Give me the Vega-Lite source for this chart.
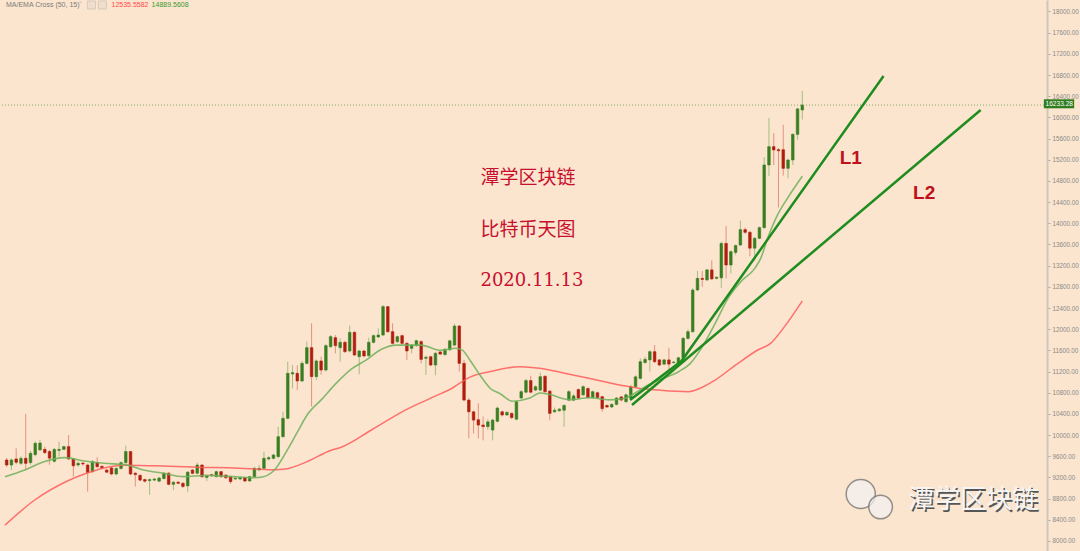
{
"$schema": "https://vega.github.io/schema/vega-lite/v6.json",
"width": 1047, "height": 551,
"autosize": {"type": "none"},
"padding": {"left": 0, "top": 0, "right": 33, "bottom": 0},
"background": "#fbe5cf",
"config": {"view": {"stroke": null}, "font": "Liberation Sans", "axis": {"labelOverlap": false}},
"resolve": {"axis": {"y": "independent", "x": "independent"}},
"datasets": {
"candles": [
{"i":-1,"o":9530,"h":9570,"l":9400,"c":9435},
{"i":0,"o":9435,"h":9560,"l":9340,"c":9530},
{"i":1,"o":9549,"h":9750,"l":9450,"c":9486},
{"i":2,"o":9467,"h":9600,"l":9430,"c":9560},
{"i":3,"o":9562,"h":10400,"l":9340,"c":9467},
{"i":4,"o":9480,"h":9700,"l":9440,"c":9656},
{"i":5,"o":9630,"h":9880,"l":9600,"c":9845},
{"i":6,"o":9720,"h":9910,"l":9700,"c":9850},
{"i":7,"o":9730,"h":9780,"l":9640,"c":9670},
{"i":8,"o":9690,"h":9720,"l":9440,"c":9565},
{"i":9,"o":9505,"h":9760,"l":9480,"c":9730},
{"i":10,"o":9710,"h":9875,"l":9590,"c":9730},
{"i":11,"o":9730,"h":9800,"l":9720,"c":9782},
{"i":12,"o":9782,"h":10000,"l":9530,"c":9549},
{"i":13,"o":9549,"h":9560,"l":9215,"c":9420},
{"i":14,"o":9435,"h":9500,"l":9400,"c":9467},
{"i":15,"o":9470,"h":9490,"l":9420,"c":9455},
{"i":16,"o":9435,"h":9460,"l":8931,"c":9290},
{"i":17,"o":9310,"h":9530,"l":9290,"c":9500},
{"i":18,"o":9480,"h":9580,"l":9380,"c":9404},
{"i":19,"o":9410,"h":9430,"l":9350,"c":9380},
{"i":20,"o":9340,"h":9360,"l":9280,"c":9300},
{"i":21,"o":9380,"h":9400,"l":9240,"c":9265},
{"i":22,"o":9265,"h":9390,"l":9240,"c":9370},
{"i":23,"o":9370,"h":9500,"l":9350,"c":9480},
{"i":24,"o":9480,"h":9800,"l":9460,"c":9690},
{"i":25,"o":9690,"h":9700,"l":9240,"c":9265},
{"i":26,"o":9280,"h":9300,"l":9030,"c":9255},
{"i":27,"o":9240,"h":9260,"l":9130,"c":9150},
{"i":28,"o":9160,"h":9180,"l":9100,"c":9130},
{"i":29,"o":9140,"h":9180,"l":8870,"c":9160},
{"i":30,"o":9150,"h":9190,"l":9130,"c":9170},
{"i":31,"o":9130,"h":9210,"l":9110,"c":9190},
{"i":32,"o":9180,"h":9300,"l":9160,"c":9280},
{"i":33,"o":9280,"h":9300,"l":9050,"c":9070},
{"i":34,"o":9070,"h":9130,"l":8960,"c":9110},
{"i":35,"o":9110,"h":9130,"l":9070,"c":9090},
{"i":36,"o":9090,"h":9110,"l":9000,"c":9030},
{"i":37,"o":9040,"h":9320,"l":8930,"c":9300},
{"i":38,"o":9340,"h":9360,"l":9260,"c":9278},
{"i":39,"o":9280,"h":9480,"l":9260,"c":9435},
{"i":40,"o":9435,"h":9450,"l":9190,"c":9215},
{"i":41,"o":9200,"h":9250,"l":9130,"c":9230},
{"i":42,"o":9250,"h":9270,"l":9210,"c":9240},
{"i":43,"o":9215,"h":9330,"l":9200,"c":9309},
{"i":44,"o":9309,"h":9320,"l":9190,"c":9215},
{"i":45,"o":9246,"h":9260,"l":9170,"c":9196},
{"i":46,"o":9215,"h":9230,"l":9080,"c":9121},
{"i":47,"o":9171,"h":9200,"l":9150,"c":9184},
{"i":48,"o":9171,"h":9210,"l":9150,"c":9196},
{"i":49,"o":9196,"h":9210,"l":9110,"c":9133},
{"i":50,"o":9133,"h":9230,"l":9120,"c":9215},
{"i":51,"o":9215,"h":9400,"l":9200,"c":9372},
{"i":52,"o":9341,"h":9435,"l":9320,"c":9372},
{"i":53,"o":9372,"h":9687,"l":9350,"c":9561},
{"i":54,"o":9549,"h":9600,"l":9520,"c":9574},
{"i":55,"o":9561,"h":9650,"l":9540,"c":9624},
{"i":56,"o":9593,"h":10159,"l":9570,"c":9970},
{"i":57,"o":9970,"h":10442,"l":9950,"c":10317},
{"i":58,"o":10317,"h":11387,"l":10300,"c":11167},
{"i":59,"o":11154,"h":11322,"l":10883,"c":11179},
{"i":60,"o":11167,"h":11322,"l":10852,"c":11022},
{"i":61,"o":11022,"h":11400,"l":11000,"c":11355},
{"i":62,"o":11355,"h":11765,"l":11330,"c":11651},
{"i":63,"o":11651,"h":12111,"l":10537,"c":11104},
{"i":64,"o":11104,"h":11430,"l":11041,"c":11400},
{"i":65,"o":11400,"h":11481,"l":11140,"c":11229},
{"i":66,"o":11229,"h":11720,"l":11200,"c":11689},
{"i":67,"o":11670,"h":11890,"l":11640,"c":11859},
{"i":68,"o":11840,"h":11890,"l":11544,"c":11689},
{"i":69,"o":11651,"h":11827,"l":11386,"c":11752},
{"i":70,"o":11752,"h":11780,"l":11550,"c":11576},
{"i":71,"o":11588,"h":12067,"l":11560,"c":11941},
{"i":72,"o":11941,"h":11960,"l":11490,"c":11513},
{"i":73,"o":11481,"h":11610,"l":11148,"c":11588},
{"i":74,"o":11588,"h":11610,"l":11470,"c":11494},
{"i":75,"o":11500,"h":11840,"l":11480,"c":11752},
{"i":76,"o":11752,"h":11900,"l":11730,"c":11878},
{"i":77,"o":11853,"h":12016,"l":11830,"c":11890},
{"i":78,"o":11890,"h":12457,"l":11870,"c":12426},
{"i":79,"o":12426,"h":12440,"l":11930,"c":11953},
{"i":80,"o":11953,"h":12111,"l":11710,"c":11733},
{"i":81,"o":11765,"h":11880,"l":11740,"c":11859},
{"i":82,"o":11878,"h":11900,"l":11710,"c":11733},
{"i":83,"o":11733,"h":11750,"l":11418,"c":11588},
{"i":84,"o":11639,"h":11720,"l":11544,"c":11701},
{"i":85,"o":11689,"h":11800,"l":11670,"c":11783},
{"i":86,"o":11765,"h":11790,"l":11355,"c":11430},
{"i":87,"o":11450,"h":11500,"l":11135,"c":11470},
{"i":88,"o":11480,"h":11500,"l":11300,"c":11323},
{"i":89,"o":11323,"h":11570,"l":11130,"c":11544},
{"i":90,"o":11570,"h":11590,"l":11510,"c":11530},
{"i":91,"o":11520,"h":11640,"l":11500,"c":11620},
{"i":92,"o":11610,"h":11800,"l":11590,"c":11780},
{"i":93,"o":11700,"h":12100,"l":11680,"c":12060},
{"i":94,"o":12060,"h":12080,"l":11200,"c":11355},
{"i":95,"o":11355,"h":11420,"l":10640,"c":10662},
{"i":96,"o":10662,"h":10700,"l":9939,"c":10440},
{"i":97,"o":10440,"h":10460,"l":10030,"c":10284},
{"i":98,"o":10290,"h":10600,"l":9940,"c":10190},
{"i":99,"o":10190,"h":10350,"l":9900,"c":10160},
{"i":100,"o":10160,"h":10300,"l":10100,"c":10250},
{"i":101,"o":10095,"h":10310,"l":9900,"c":10284},
{"i":102,"o":10260,"h":10540,"l":10240,"c":10510},
{"i":103,"o":10440,"h":10460,"l":10350,"c":10380},
{"i":104,"o":10380,"h":10450,"l":10360,"c":10430},
{"i":105,"o":10410,"h":10430,"l":10300,"c":10330},
{"i":106,"o":10300,"h":10650,"l":10280,"c":10630},
{"i":107,"o":10700,"h":10850,"l":10680,"c":10820},
{"i":108,"o":10810,"h":11060,"l":10790,"c":11030},
{"i":109,"o":11030,"h":11120,"l":10790,"c":10810},
{"i":110,"o":10850,"h":10940,"l":10830,"c":10914},
{"i":111,"o":10850,"h":11180,"l":10830,"c":11103},
{"i":112,"o":11110,"h":11130,"l":10800,"c":10820},
{"i":113,"o":10830,"h":10850,"l":10280,"c":10410},
{"i":114,"o":10440,"h":10520,"l":10420,"c":10470},
{"i":115,"o":10460,"h":10510,"l":10440,"c":10490},
{"i":116,"o":10470,"h":10580,"l":10158,"c":10560},
{"i":117,"o":10660,"h":10850,"l":10640,"c":10820},
{"i":118,"o":10660,"h":10780,"l":10640,"c":10740},
{"i":119,"o":10860,"h":10880,"l":10680,"c":10700},
{"i":120,"o":10760,"h":10940,"l":10740,"c":10914},
{"i":121,"o":10880,"h":10900,"l":10690,"c":10710},
{"i":122,"o":10710,"h":10840,"l":10690,"c":10820},
{"i":123,"o":10800,"h":10820,"l":10690,"c":10710},
{"i":124,"o":10725,"h":10740,"l":10440,"c":10500},
{"i":125,"o":10560,"h":10580,"l":10510,"c":10530},
{"i":126,"o":10530,"h":10600,"l":10510,"c":10580},
{"i":127,"o":10580,"h":10720,"l":10560,"c":10700},
{"i":128,"o":10720,"h":10740,"l":10640,"c":10662},
{"i":129,"o":10630,"h":10780,"l":10610,"c":10760},
{"i":130,"o":10700,"h":10950,"l":10680,"c":10914},
{"i":131,"o":10914,"h":11130,"l":10890,"c":11100},
{"i":132,"o":11071,"h":11450,"l":11050,"c":11386},
{"i":133,"o":11370,"h":11480,"l":11350,"c":11430},
{"i":134,"o":11420,"h":11600,"l":11200,"c":11575},
{"i":135,"o":11575,"h":11700,"l":11360,"c":11386},
{"i":136,"o":11420,"h":11440,"l":11300,"c":11323},
{"i":137,"o":11340,"h":11440,"l":11320,"c":11420},
{"i":138,"o":11420,"h":11650,"l":11150,"c":11340},
{"i":139,"o":11370,"h":11400,"l":11350,"c":11380},
{"i":140,"o":11340,"h":11480,"l":11320,"c":11460},
{"i":141,"o":11460,"h":11850,"l":11440,"c":11827},
{"i":142,"o":11827,"h":12000,"l":11800,"c":11953},
{"i":143,"o":11953,"h":12780,"l":11930,"c":12740},
{"i":144,"o":12740,"h":13100,"l":12720,"c":12960},
{"i":145,"o":12960,"h":13100,"l":12800,"c":12940},
{"i":146,"o":12930,"h":13140,"l":12910,"c":13120},
{"i":147,"o":13120,"h":13300,"l":12930,"c":12950},
{"i":148,"o":12960,"h":13000,"l":12940,"c":12980},
{"i":149,"o":12970,"h":13650,"l":12780,"c":13620},
{"i":150,"o":13620,"h":13950,"l":12960,"c":13212},
{"i":151,"o":13212,"h":13490,"l":13050,"c":13464},
{"i":152,"o":13450,"h":13600,"l":13400,"c":13580},
{"i":153,"o":13590,"h":14050,"l":13570,"c":13880},
{"i":154,"o":13880,"h":13920,"l":13800,"c":13830},
{"i":155,"o":13830,"h":13850,"l":13380,"c":13530},
{"i":156,"o":13530,"h":13740,"l":13300,"c":13716},
{"i":157,"o":13716,"h":13940,"l":13700,"c":13918},
{"i":158,"o":13918,"h":15250,"l":13900,"c":15101},
{"i":159,"o":15101,"h":15990,"l":14890,"c":15447},
{"i":160,"o":15447,"h":15700,"l":15100,"c":15385},
{"i":161,"o":15390,"h":15420,"l":14300,"c":15370},
{"i":162,"o":15390,"h":15860,"l":14900,"c":15038},
{"i":163,"o":15038,"h":15220,"l":14850,"c":15195},
{"i":164,"o":15195,"h":15700,"l":15100,"c":15680},
{"i":165,"o":15680,"h":16180,"l":15580,"c":16160},
{"i":166,"o":16140,"h":16500,"l":15960,"c":16233.28}
],
"ma": [
{"i":-1.35,"v":8300},{"i":4.89,"v":8774},{"i":11.75,"v":9133},{"i":15.9,"v":9284},{"i":19.44,"v":9380},{"i":23.6,"v":9430},{"i":29.83,"v":9420},{"i":40.23,"v":9390},{"i":45.43,"v":9385},{"i":51.04,"v":9360},{"i":55.2,"v":9345},{"i":57.9,"v":9365},{"i":62.06,"v":9498},{"i":67.25,"v":9719},{"i":68.92,"v":9760},{"i":75.57,"v":10096},{"i":82.85,"v":10480},{"i":89.08,"v":10740},{"i":92.2,"v":10870},{"i":96.36,"v":11100},{"i":100.5,"v":11200},{"i":106.75,"v":11292},{"i":110.9,"v":11262},{"i":116.1,"v":11170},{"i":120.9,"v":11080},{"i":125.46,"v":10990},{"i":128.58,"v":10930},{"i":131.7,"v":10885},{"i":135.86,"v":10850},{"i":142.1,"v":10820},{"i":144.17,"v":10870},{"i":147.7,"v":11040},{"i":152.49,"v":11355},{"i":156.65,"v":11607},{"i":159.35,"v":11733},{"i":162.26,"v":12048},{"i":166,"v":12535.56}
],
"ema": [
{"i":-1.35,"v":9215},{"i":2.81,"v":9341},{"i":6.97,"v":9500},{"i":11.12,"v":9575},{"i":15.28,"v":9510},{"i":19.44,"v":9467},{"i":24.22,"v":9435},{"i":27.75,"v":9341},{"i":31.91,"v":9278},{"i":36.07,"v":9215},{"i":41.27,"v":9240},{"i":46.46,"v":9215},{"i":50.62,"v":9196},{"i":52.7,"v":9210},{"i":55.2,"v":9341},{"i":58.1,"v":9750},{"i":59.98,"v":10050},{"i":62.06,"v":10380},{"i":65.17,"v":10680},{"i":68.29,"v":10990},{"i":71.41,"v":11250},{"i":74.53,"v":11420},{"i":77.65,"v":11620},{"i":80.77,"v":11700},{"i":85.96,"v":11700},{"i":90.12,"v":11600},{"i":93.24,"v":11640},{"i":94.7,"v":11600},{"i":96.36,"v":11400},{"i":98.44,"v":11120},{"i":100.52,"v":10880},{"i":102.6,"v":10780},{"i":105.09,"v":10640},{"i":108.83,"v":10700},{"i":110.91,"v":10795},{"i":112.99,"v":10765},{"i":117.15,"v":10670},{"i":121.3,"v":10705},{"i":125.46,"v":10665},{"i":128.58,"v":10690},{"i":130.66,"v":10780},{"i":132.74,"v":10900},{"i":135.86,"v":11040},{"i":140.02,"v":11197},{"i":142.51,"v":11355},{"i":144.8,"v":11638},{"i":147.71,"v":12110},{"i":150.41,"v":12582},{"i":153.11,"v":12897},{"i":156.02,"v":13149},{"i":157.27,"v":13338},{"i":158.72,"v":13716},{"i":160.8,"v":14157},{"i":162.88,"v":14472},{"i":166,"v":14889.56}
],
"trend": [
{"name":"L1","i":129.83,"v":10663},{"name":"L1","i":140.64,"v":11399},{"name":"L1","i":183.05,"v":16782},
{"name":"L2","i":130.25,"v":10568},{"name":"L2","i":203.43,"v":16140}
]
},
"layer": [
{"data":{"name":"candles"},
 "mark":{"type":"rule","strokeWidth":1,"opacity":0.5},
 "encoding":{
  "x":{"field":"i","type":"quantitative","scale":{"domain":[-1.35,216.31],"nice":false,"zero":false},"axis":null},
  "y":{"field":"l","type":"quantitative","scale":{"domain":[7811,18217],"nice":false,"zero":false},
       "axis":{"orient":"right","values":[8000,8400,8800,9200,9600,10000,10400,10800,11200,11600,12000,12400,12800,13200,13600,14000,14400,14800,15200,15600,16000,16400,16800,17200,17600,18000],
               "format":".2f","labelFontSize":6.3,"labelColor":"#8a8a8a","labelFont":"Liberation Sans","tickColor":"#b5aca3","tickSize":3,"domainColor":"#cec5bb","domainWidth":2,"grid":false,"title":null,"labelPadding":2,"labelOverlap":false,"labelBound":false,"labelFlush":false}},
  "y2":{"field":"h"},
  "color":{"condition":{"test":"datum.c >= datum.o","value":"#4e9a30"},"value":"#d0402c"}}},
{"data":{"name":"candles"},
 "mark":{"type":"bar","size":2.6,"strokeWidth":0.6},
 "encoding":{
  "x":{"field":"i","type":"quantitative","scale":{"domain":[-1.35,216.31],"nice":false,"zero":false},"axis":null},
  "y":{"field":"o","type":"quantitative","scale":{"domain":[7811,18217],"nice":false,"zero":false},"axis":null},
  "y2":{"field":"c"},
  "color":{"condition":{"test":"datum.c >= datum.o","value":"#3a7e22"},"value":"#b01e0e"},
  "stroke":{"condition":{"test":"datum.c >= datum.o","value":"#3a7e22"},"value":"#b01e0e"}}},
{"data":{"name":"ma"},
 "mark":{"type":"line","color":"#ff5a5a","strokeWidth":1.5,"interpolate":"monotone","opacity":0.85},
 "encoding":{
  "x":{"field":"i","type":"quantitative","scale":{"domain":[-1.35,216.31],"nice":false,"zero":false},"axis":null},
  "y":{"field":"v","type":"quantitative","scale":{"domain":[7811,18217],"nice":false,"zero":false},"axis":null}}},
{"data":{"name":"ema"},
 "mark":{"type":"line","color":"#6fb05a","strokeWidth":1.6,"interpolate":"monotone","opacity":0.85},
 "encoding":{
  "x":{"field":"i","type":"quantitative","scale":{"domain":[-1.35,216.31],"nice":false,"zero":false},"axis":null},
  "y":{"field":"v","type":"quantitative","scale":{"domain":[7811,18217],"nice":false,"zero":false},"axis":null}}},
{"data":{"values":[{}]},
 "mark":{"type":"rule","color":"#7fa860","strokeDash":[1,2],"strokeWidth":1},
 "encoding":{"y":{"datum":16233.28,"type":"quantitative","scale":{"domain":[7811,18217],"nice":false,"zero":false},"axis":null}}},
{"data":{"name":"trend"},
 "mark":{"type":"line","color":"#1e8c1e","strokeWidth":2.5},
 "encoding":{
  "x":{"field":"i","type":"quantitative","scale":{"domain":[-1.35,216.31],"nice":false,"zero":false},"axis":null},
  "y":{"field":"v","type":"quantitative","scale":{"domain":[7811,18217],"nice":false,"zero":false},"axis":null},
  "detail":{"field":"name"}}},
{"data":{"values":[{}]},
 "mark":{"type":"text","align":"left","baseline":"middle","font":"Noto Sans CJK SC","fontSize":19,"color":"#c8102e"},
 "encoding":{"x":{"datum":98.44,"type":"quantitative","axis":null},"y":{"datum":14855,"type":"quantitative","axis":null},"text":{"value":"潭学区块链"}}},
{"data":{"values":[{}]},
 "mark":{"type":"text","align":"left","baseline":"middle","font":"Noto Sans CJK SC","fontSize":19,"color":"#c8102e"},
 "encoding":{"x":{"datum":98.44,"type":"quantitative","axis":null},"y":{"datum":13873,"type":"quantitative","axis":null},"text":{"value":"比特币天图"}}},
{"data":{"values":[{}]},
 "mark":{"type":"text","align":"left","baseline":"middle","font":"DejaVu Serif","fontSize":18,"color":"#c8102e"},
 "encoding":{"x":{"datum":98.44,"type":"quantitative","axis":null},"y":{"datum":12910,"type":"quantitative","axis":null},"text":{"value":"2020.11.13"}}},
{"data":{"values":[{}]},
 "mark":{"type":"text","align":"center","baseline":"middle","font":"Liberation Sans","fontWeight":"bold","fontSize":19,"color":"#c0101a"},
 "encoding":{"x":{"datum":176.19,"type":"quantitative","axis":null},"y":{"datum":15233,"type":"quantitative","axis":null},"text":{"value":"L1"}}},
{"data":{"values":[{}]},
 "mark":{"type":"text","align":"center","baseline":"middle","font":"Liberation Sans","fontWeight":"bold","fontSize":19,"color":"#c0101a"},
 "encoding":{"x":{"datum":191.57,"type":"quantitative","axis":null},"y":{"datum":14572,"type":"quantitative","axis":null},"text":{"value":"L2"}}},
{"data":{"values":[{}]},
 "mark":{"type":"rect","color":"#2e7d1e"},
 "encoding":{"x":{"datum":216.7,"type":"quantitative","axis":null},"x2":{"datum":223.06},"y":{"datum":16342,"type":"quantitative","axis":null},"y2":{"datum":16172}}},
{"data":{"values":[{}]},
 "mark":{"type":"text","align":"center","baseline":"middle","font":"Liberation Sans","fontSize":6.6,"color":"#ffffff"},
 "encoding":{"x":{"datum":219.93,"type":"quantitative","axis":null},"y":{"datum":16257,"type":"quantitative","axis":null},"text":{"value":"16233.28"}}},
{"data":{"values":[{}]},
 "mark":{"type":"text","align":"left","baseline":"middle","font":"Liberation Sans","fontSize":7,"color":"#7a7a7a"},
 "encoding":{"x":{"datum":-1.14,"type":"quantitative","axis":null},"y":{"datum":18123,"type":"quantitative","axis":null},"text":{"value":"MA/EMA Cross (50, 15)"}}},
{"data":{"values":[{}]},
 "mark":{"type":"text","align":"center","baseline":"middle","font":"DejaVu Sans","fontSize":7,"color":"#b0a8a0"},
 "encoding":{"x":{"datum":14.5,"type":"quantitative","axis":null},"y":{"datum":18123,"type":"quantitative","axis":null},"text":{"value":"˅"}}},
{"data":{"values":[{}]},
 "mark":{"type":"point","shape":"square","size":64,"filled":true,"color":"#eadccc","stroke":"#c9bfb4","strokeWidth":1},
 "encoding":{"x":{"datum":16.8,"type":"quantitative","axis":null},"y":{"datum":18123,"type":"quantitative","axis":null}}},
{"data":{"values":[{}]},
 "mark":{"type":"point","shape":"square","size":64,"filled":true,"color":"#eadccc","stroke":"#c9bfb4","strokeWidth":1},
 "encoding":{"x":{"datum":19.1,"type":"quantitative","axis":null},"y":{"datum":18123,"type":"quantitative","axis":null}}},
{"data":{"values":[{}]},
 "mark":{"type":"text","align":"left","baseline":"middle","font":"Liberation Sans","fontSize":7,"color":"#ff4a4a"},
 "encoding":{"x":{"datum":21.0,"type":"quantitative","axis":null},"y":{"datum":18123,"type":"quantitative","axis":null},"text":{"value":"12535.5582"}}},
{"data":{"values":[{}]},
 "mark":{"type":"text","align":"left","baseline":"middle","font":"Liberation Sans","fontSize":7,"color":"#3a9a2a"},
 "encoding":{"x":{"datum":29.42,"type":"quantitative","axis":null},"y":{"datum":18123,"type":"quantitative","axis":null},"text":{"value":"14889.5608"}}},
{"data":{"values":[{}]},
 "mark":{"type":"point","shape":"circle","size":850,"filled":true,"color":"#f3f3f3","stroke":"#6a6a6a","strokeWidth":1.5},
 "encoding":{"x":{"datum":178.27,"type":"quantitative","axis":null},"y":{"datum":8887,"type":"quantitative","axis":null}}},
{"data":{"values":[{}]},
 "mark":{"type":"point","shape":"circle","size":560,"filled":true,"color":"#f3f3f3","stroke":"#6a6a6a","strokeWidth":1.5},
 "encoding":{"x":{"datum":182.43,"type":"quantitative","axis":null},"y":{"datum":8642,"type":"quantitative","axis":null}}},
{"data":{"values":[{}]},
 "mark":{"type":"text","align":"left","baseline":"middle","font":"Noto Sans CJK SC","fontSize":26,"color":"#555555","dx":1.5,"dy":1.5},
 "encoding":{"x":{"datum":188.25,"type":"quantitative","axis":null},"y":{"datum":8774,"type":"quantitative","axis":null},"text":{"value":"潭学区块链"}}},
{"data":{"values":[{}]},
 "mark":{"type":"text","align":"left","baseline":"middle","font":"Noto Sans CJK SC","fontSize":26,"color":"#f5f5f5"},
 "encoding":{"x":{"datum":188.25,"type":"quantitative","axis":null},"y":{"datum":8774,"type":"quantitative","axis":null},"text":{"value":"潭学区块链"}}}
]
}
